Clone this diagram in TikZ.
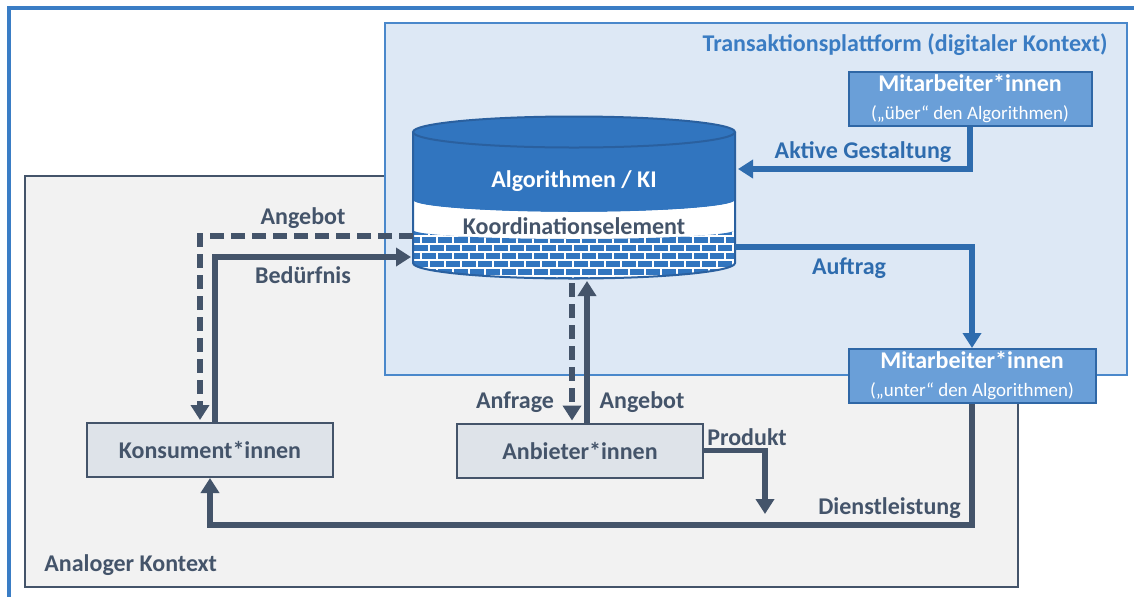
\documentclass[tikz,border=0pt]{standalone}
\usepackage{fontspec}
\setmainfont{Carlito}
\usetikzlibrary{arrows.meta}

\definecolor{outerblue}{HTML}{3A7DC5}
\definecolor{digfill}{HTML}{DDE8F5}
\definecolor{digborder}{HTML}{4A88CB}
\definecolor{grayfill}{HTML}{F2F2F2}
\definecolor{slate}{HTML}{44546A}
\definecolor{boxfill}{HTML}{DEE3E9}
\definecolor{mfill}{HTML}{6A9FD8}
\definecolor{mborder}{HTML}{2F67A6}
\definecolor{cylblue}{HTML}{3175BF}
\definecolor{cyldark}{HTML}{2A609F}
\definecolor{arrowblue}{HTML}{2E6CAE}
\definecolor{titleblue}{HTML}{3A7CC3}

\begin{document}
\begin{tikzpicture}[x=0.5pt,y=-0.5pt,
  lbl/.style={font=\fontsize{12}{14}\selectfont\bfseries, text=slate, inner sep=0pt},
  pbox/.style={draw=slate, fill=boxfill, line width=1pt, minimum width=123pt,
    minimum height=27pt, inner sep=0pt, font=\fontsize{12}{14}\selectfont\bfseries, text=slate},
  mbox/.style={draw=mborder, fill=mfill, line width=1pt, minimum height=27pt,
    inner sep=0pt, text=white, align=center, font=\fontsize{9.5}{14}\selectfont},
  darrow/.style={draw=slate, line width=2.7pt, -{Triangle[length=7.5pt,width=9pt]}},
  dasharrow/.style={darrow, dash pattern=on 7pt off 3.5pt},
  barrow/.style={draw=arrowblue, line width=2.7pt, -{Triangle[length=7.5pt,width=9pt]}},
  brick/.style={white, line width=0.6pt}]

\useasboundingbox (0,0) rectangle (1134,596);
\clip (0,0) rectangle (1134,596);
\fill[white] (0,0) rectangle (1134,596);

% outer frame
\draw[outerblue, line width=2pt] (9,8) rectangle (1200,660);

% analogue context
\draw[slate, fill=grayfill, line width=1pt] (25,176) rectangle (1018,587);
\node[lbl, anchor=west] (analog) at (44,565) {Analoger Kontext};

% digital context (platform)
\draw[digborder, fill=digfill, line width=1pt] (385,23) rectangle (1127,375);
\node[lbl, text=titleblue, anchor=east] (digital) at (1108,45) {Transaktionsplattform (digitaler Kontext)};

% ---- cylinder: algorithms / coordination element ----
% blue body
\fill[cylblue] (413,132) -- (413,200)
  arc[start angle=180, end angle=0, x radius=161, y radius=12] -- (735,132) -- cycle;
% white band
\fill[white] (413,200) arc[start angle=180, end angle=0, x radius=161, y radius=12]
  -- (735,230) arc[start angle=0, end angle=180, x radius=161, y radius=9] -- cycle;
% brick wall
\begin{scope}
  \clip (413,230) arc[start angle=180, end angle=0, x radius=161, y radius=9]
    -- (735,263) arc[start angle=0, end angle=180, x radius=161, y radius=15.5] -- cycle;
  \fill[cylblue] (400,220) rectangle (750,290);
  \foreach \y in {236,244,...,284} \draw[brick] (400,\y) -- (750,\y);
  \foreach \y [count=\r] in {228,236,...,284} {
    \pgfmathsetmacro\off{mod(\r,2)*8}
    \foreach \x in {405,421,...,745} \draw[brick] (\x+\off,\y) -- (\x+\off,\y+8);
  }
\end{scope}
% outline and lid
\draw[cyldark, line width=1pt] (413,132) -- (413,263)
  arc[start angle=180, end angle=0, x radius=161, y radius=15.5] -- (735,132);
\draw[cyldark, fill=cylblue, line width=1pt] (574,132) ellipse[x radius=161, y radius=15.5];
\node[lbl, text=white] (ki) at (574,181) {Algorithmen / KI};
\node[lbl] (koord) at (574,226) {Koordinationselement};

% ports on the cylinder
\coordinate (cylAG)  at (738,169);
\coordinate (cylAuf) at (735,247);
\coordinate (cylAng) at (413,236);
\coordinate (cylBed) at (411,257);
\coordinate (cylAnf) at (572,283);
\coordinate (cylAnb) at (587,281);

% ---- actors ----
\node[pbox] (konsument) at (210,450) {Konsument*innen};
\node[pbox] (anbieter) at (580,450.5) {Anbieter*innen};
\node[mbox, minimum width=121.5pt] (mueber) at (970,99)
  {{\fontsize{12}{14}\selectfont\bfseries Mitarbeiter*innen}\\(„über“ den Algorithmen)};
\node[mbox, minimum width=123.5pt] (munter) at (972,376)
  {{\fontsize{12}{14}\selectfont\bfseries Mitarbeiter*innen}\\(„unter“ den Algorithmen)};

% ---- flows ----
\draw[barrow] (mueber.south) |- (cylAG);
\node[lbl, text=arrowblue] (lag) at (863,152) {Aktive Gestaltung};

\draw[barrow] (cylAuf) -| (munter.north);
\node[lbl, text=arrowblue] (lauf) at (849,268) {Auftrag};

\coordinate (dl) at (210,525);
\draw[darrow] (munter.south) |- (dl) -- (konsument.south);
\node[lbl, anchor=east] (ldl) at (961,508) {Dienstleistung};

\coordinate (prod) at (765,514);
\draw[darrow] (anbieter.east) -| (prod);
\node[lbl] (lprod) at (747,437) {Produkt};

\draw[dasharrow] (cylAng) -| ([xshift=-5pt,yshift=1pt]konsument.north);
\node[lbl] (lang1) at (303,218) {Angebot};

\draw[darrow] ([xshift=2.5pt]konsument.north) |- (cylBed);
\node[lbl] (lbed) at (303,275) {Bedürfnis};

\draw[dasharrow] (cylAnf) -- ([xshift=-4pt,yshift=1pt]anbieter.north);
\node[lbl] (lanf) at (515,402) {Anfrage};

\draw[darrow] ([xshift=3.5pt]anbieter.north) -- (cylAnb);
\node[lbl] (lang2) at (642,402) {Angebot};

\end{tikzpicture}
\end{document}
